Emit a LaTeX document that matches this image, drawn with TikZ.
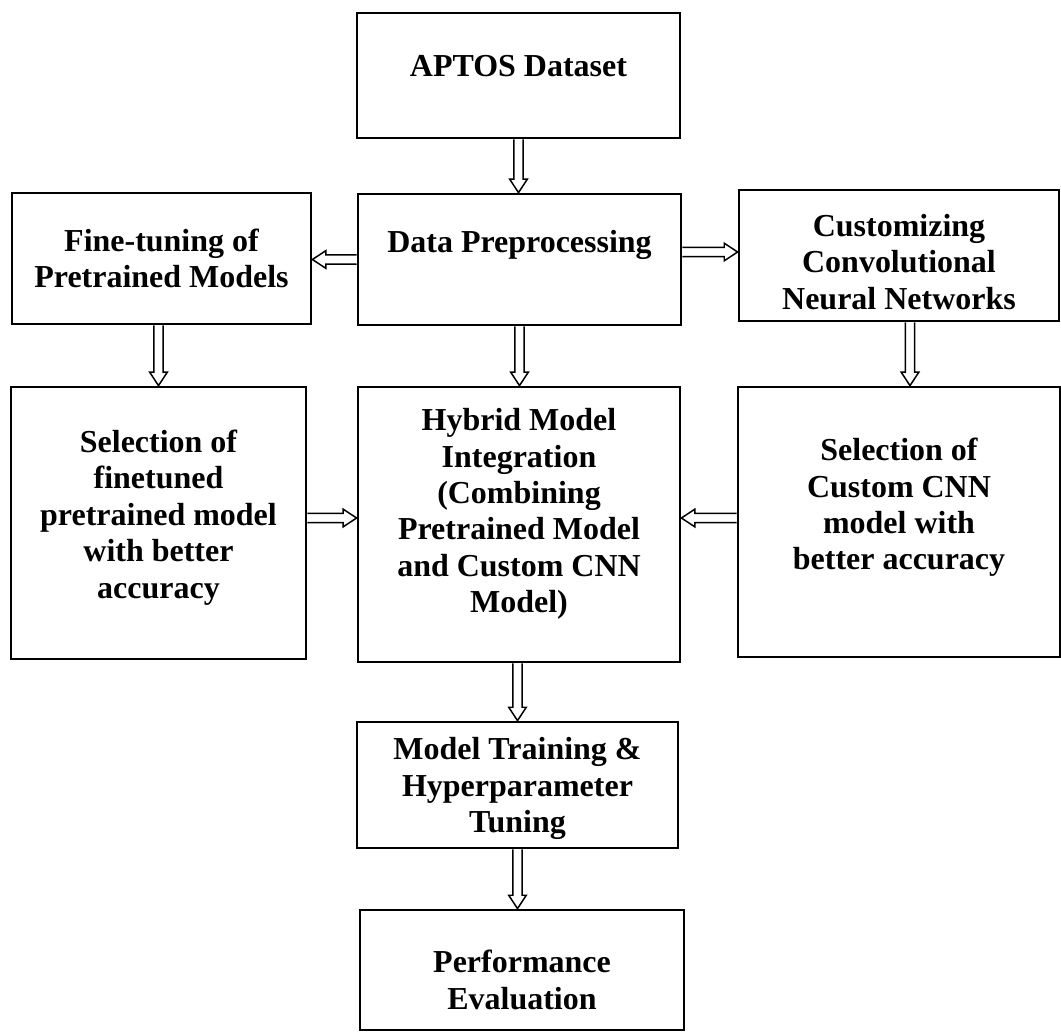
\documentclass[tikz,border=0pt]{standalone}
\usepackage{fontspec}
\setmainfont{Liberation Serif}
\usetikzlibrary{calc}

% hollow block arrow between two points
\newcommand{\hollowarrow}[2]{%
  \draw[hollow] let \p1=#1, \p2=#2,
      \n1={atan2(\y2-\y1,\x2-\x1)}, \n2={veclen(\x2-\x1,\y2-\y1)} in
    [shift={(\p1)}, rotate=\n1]
    (0,-2.6) -- ({\n2-7.6},-2.6) -- ({\n2-7.6},-5) -- (\n2,0)
    -- ({\n2-7.6},5) -- ({\n2-7.6},2.6) -- (0,2.6);
}

\begin{document}
\begin{tikzpicture}[
    box/.style={rectangle, draw, line width=1.6pt, inner sep=0pt},
    txt/.style={align=center, inner sep=0pt, font=\bfseries\fontsize{18.2}{20.7}\selectfont},
    hollow/.style={line width=0.85pt, x=1pt, y=1pt, line join=miter},
]
\useasboundingbox (0,0) rectangle (21.22,-20.64);

\node[box, minimum width=6.46cm, minimum height=2.50cm] (aptos) at (10.37,-1.51) {};
\node[box, minimum width=6.46cm, minimum height=2.62cm] (prep) at (10.39,-5.19) {};
\node[box, minimum width=5.98cm, minimum height=2.62cm] (finetune) at (3.23,-5.17) {};
\node[box, minimum width=6.40cm, minimum height=2.62cm] (custom) at (17.98,-5.11) {};
\node[box, minimum width=5.90cm, minimum height=5.44cm] (selpre) at (3.17,-10.46) {};
\node[box, minimum width=6.44cm, minimum height=5.50cm] (hybrid) at (10.38,-10.49) {};
\node[box, minimum width=6.44cm, minimum height=5.40cm] (selcnn) at (17.98,-10.44) {};
\node[box, minimum width=6.42cm, minimum height=2.52cm] (train) at (10.35,-15.70) {};
\node[box, minimum width=6.48cm, minimum height=2.40cm] (perf) at (10.44,-19.40) {};

\node[txt] (aptostxt) at ([yshift=0.19cm]aptos.center) {APTOS Dataset};
\node[txt] (preptxt) at ([yshift=0.30cm]prep.center) {Data Preprocessing};
\node[txt] (finetunetxt) at (finetune.center) {Fine-tuning of\\Pretrained Models};
\node[txt] (customtxt) at ([yshift=-0.13cm]custom.center) {Customizing\\Convolutional\\Neural Networks};
\node[txt] (selpretxt) at ([yshift=0.11cm]selpre.center) {Selection of\\finetuned\\pretrained model\\with better\\accuracy};
\node[txt] (hybridtxt) at ([yshift=0.21cm]hybrid.center) {Hybrid Model\\Integration\\(Combining\\Pretrained Model\\and Custom CNN\\Model)};
\node[txt] (selcnntxt) at ([yshift=0.29cm]selcnn.center) {Selection of\\Custom CNN\\model with\\better accuracy};
\node[txt] (traintxt) at ([yshift=-0.07cm]train.center) {Model Training \&\\Hyperparameter\\Tuning};
\node[txt] (perftxt) at ([yshift=-0.20cm]perf.center) {Performance\\Evaluation};

\coordinate (pc) at ([yshift=0.15cm]prep.east);
\coordinate (cs) at ([xshift=0.22cm]selcnn.north);
\coordinate (sh) at ([yshift=0.10cm]selpre.east);

\hollowarrow{(aptos.south)}{(aptos.south |- prep.north)}
\hollowarrow{(prep.west)}{(prep.west -| finetune.east)}
\hollowarrow{(pc)}{(pc -| custom.west)}
\hollowarrow{(prep.south)}{(prep.south |- hybrid.north)}
\hollowarrow{(selpre.north |- finetune.south)}{(selpre.north)}
\hollowarrow{(cs |- custom.south)}{(cs)}
\hollowarrow{(sh)}{(sh -| hybrid.west)}
\hollowarrow{(sh -| selcnn.west)}{(sh -| hybrid.east)}
\hollowarrow{(train.north |- hybrid.south)}{(train.north)}
\hollowarrow{(train.south)}{(train.south |- perf.north)}
\end{tikzpicture}
\end{document}
